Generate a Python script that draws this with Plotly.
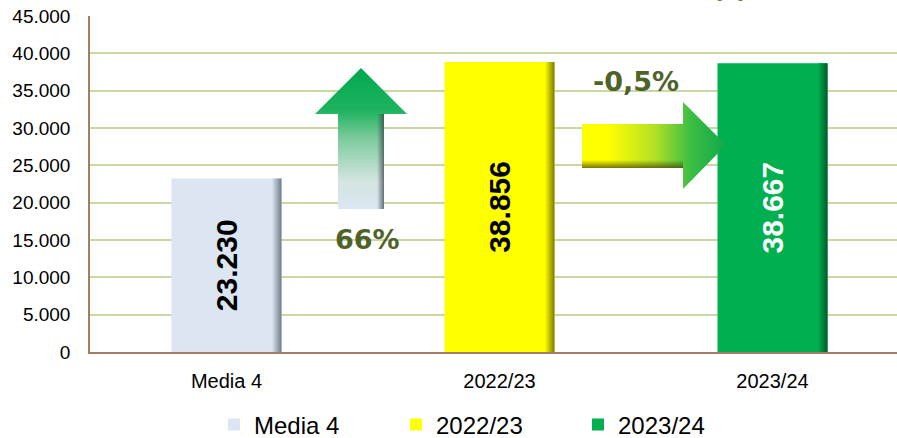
import plotly.graph_objects as go

# ---- data ----
categories = ["Media 4", "2022/23", "2023/24"]
values = [23230, 38856, 38667]
bar_colors = ["#DCE6F2", "#FFFF00", "#00B050"]
edge_colors = ["#6F7B88", "#7A7A00", "#005A28"]
label_colors = ["#000000", "#000000", "#FFFFFF"]
change_labels = ["66%", "-0,5%"]
y_ticks = [0, 5000, 10000, 15000, 20000, 25000, 30000, 35000, 40000, 45000]

# ---- layout constants (pixels) ----
W, H = 897, 438
L, R, T, B = 90, 0, 16, 86
PW, PH = W - L - R, H - T - B
bar_w = 0.403
x_range = [-0.5, -0.5 + PW / 273.0]


def fx(px):
    return (px - L) / PW


def fy(py):
    return (T + PH - py) / PH


fig = go.Figure()

for i, (cat, v) in enumerate(zip(categories, values)):
    fig.add_trace(go.Bar(
        x=[i], y=[v], name=cat, width=bar_w,
        marker=dict(color=bar_colors[i], line=dict(width=0)),
        texttemplate="<b>%{y:,.0f}</b>", textposition="inside", textangle=-90,
        insidetextanchor="middle",
        textfont=dict(family="Liberation Sans, Arial", size=30, color=label_colors[i]),
        hoverinfo="skip",
    ))

# right-edge bevel shading for each bar (derived from values)
edge_w = 0.035
for i, v in enumerate(values):
    x1 = i + bar_w / 2
    x0 = x1 - edge_w
    fig.add_trace(go.Scatter(
        x=[x0, x1, x1, x0, x0], y=[0, 0, v, v, 0], mode="lines",
        fill="toself", line=dict(width=0), showlegend=False, hoverinfo="skip",
        fillgradient=dict(type="horizontal",
                          colorscale=[[0, bar_colors[i]], [1, edge_colors[i]]],
                          start=x0, stop=x1),
    ))

# ---- decorative arrows (overlay axes in plot-area fractions) ----
up_px = [(361, 68), (407, 114), (384, 114), (384, 209), (338, 209), (338, 114), (315, 114), (361, 68)]
up_edge_px = [(377, 114), (384, 114), (384, 209), (377, 209), (377, 114)]
right_px = [(582, 124), (683, 124), (683, 102), (726, 145), (683, 189), (683, 168), (582, 168), (582, 124)]
right_edge_px = [(582, 160), (683, 160), (683, 168), (582, 168), (582, 160)]

fig.add_trace(go.Scatter(
    x=[fx(p[0]) for p in up_px], y=[fy(p[1]) for p in up_px],
    xaxis="x2", yaxis="y2", mode="lines", fill="toself", line=dict(width=0),
    showlegend=False, hoverinfo="skip",
    fillgradient=dict(type="vertical",
                      colorscale=[[0, "#DCE6F2"], [0.2, "#D3E5E0"], [0.5, "#7CCB9D"],
                                  [0.7, "#1EB35E"], [1, "#00A850"]],
                      start=fy(209), stop=fy(68)),
))
fig.add_trace(go.Scatter(
    x=[fx(p[0]) for p in up_edge_px], y=[fy(p[1]) for p in up_edge_px],
    xaxis="x2", yaxis="y2", mode="lines", fill="toself", line=dict(width=0),
    showlegend=False, hoverinfo="skip",
    fillgradient=dict(type="horizontal",
                      colorscale=[[0, "rgba(60,70,80,0)"], [1, "rgba(60,70,80,0.75)"]],
                      start=fx(377), stop=fx(384)),
))
fig.add_trace(go.Scatter(
    x=[fx(p[0]) for p in right_px], y=[fy(p[1]) for p in right_px],
    xaxis="x2", yaxis="y2", mode="lines", fill="toself", line=dict(width=0),
    showlegend=False, hoverinfo="skip",
    fillgradient=dict(type="horizontal",
                      colorscale=[[0, "#FFFF00"], [0.18, "#FFFF00"], [0.5, "#B5E123"],
                                  [0.75, "#3DBE44"], [1, "#10A94A"]],
                      start=fx(582), stop=fx(726)),
))
fig.add_trace(go.Scatter(
    x=[fx(p[0]) for p in right_edge_px], y=[fy(p[1]) for p in right_edge_px],
    xaxis="x2", yaxis="y2", mode="lines", fill="toself", line=dict(width=0),
    showlegend=False, hoverinfo="skip",
    fillgradient=dict(type="vertical",
                      colorscale=[[0, "rgba(60,60,0,0.7)"], [1, "rgba(60,60,0,0)"]],
                      start=fy(168), stop=fy(160)),
))

annotations = [
    dict(text="<b>" + change_labels[0] + "</b>", x=fx(367), y=fy(239), xref="paper", yref="paper",
         showarrow=False, font=dict(family="DejaVu Sans", size=27, color="#4F6228"),
         xanchor="center", yanchor="middle"),
    dict(text="<b>" + change_labels[1] + "</b>", x=fx(636), y=fy(82), xref="paper", yref="paper",
         showarrow=False, font=dict(family="DejaVu Sans", size=27, color="#4F6228"),
         xanchor="center", yanchor="middle"),
    dict(text="<b>(t)</b>", x=fx(730), y=fy(5), xref="paper", yref="paper",
         showarrow=False, font=dict(family="DejaVu Sans", size=26, color="#4F6228"),
         xanchor="center", yanchor="bottom"),
]

fig.update_layout(
    width=W, height=H,
    margin=dict(l=L, r=R, t=T, b=B, autoexpand=False),
    paper_bgcolor="white", plot_bgcolor="white",
    barmode="overlay",
    separators=",.",
    showlegend=True,
    legend=dict(orientation="h", x=fx(214), xanchor="left", y=fy(425), yanchor="middle",
                font=dict(family="Liberation Sans, Arial", size=24, color="#000000"),
                entrywidth=137, traceorder="normal", itemclick=False),
    xaxis=dict(range=x_range, tickvals=list(range(len(categories))), ticktext=categories,
               showgrid=False, zeroline=False, showline=True, linecolor="#A67C64", linewidth=1.5,
               ticks="", ticklabelstandoff=10,
               tickfont=dict(family="Liberation Sans, Arial", size=20, color="#000000")),
    yaxis=dict(range=[0, 45000], tickvals=y_ticks, tickformat=",.0f",
               showgrid=True, gridcolor="#C8D8A4", gridwidth=1.5, zeroline=False,
               showline=True, linecolor="#A67C64", linewidth=1.5, ticks="",
               ticklabelstandoff=14,
               tickfont=dict(family="Liberation Sans, Arial", size=19, color="#000000")),
    xaxis2=dict(overlaying="x", range=[0, 1], visible=False, fixedrange=True),
    yaxis2=dict(overlaying="y", range=[0, 1], visible=False, fixedrange=True),
    annotations=annotations,
    hovermode=False,
)

fig.write_html(
    "out.html",
    config={"displayModeBar": False},
    post_script="document.body.style.margin='0';document.body.style.padding='0';",
)
